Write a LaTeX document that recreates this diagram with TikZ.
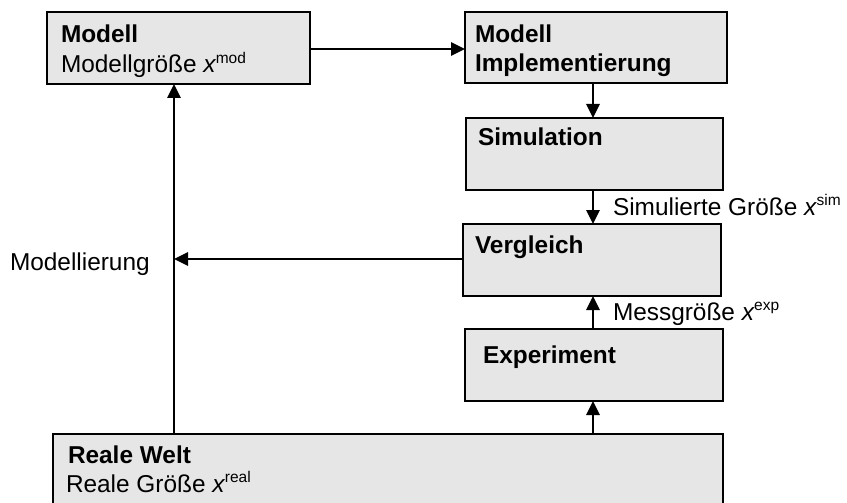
\documentclass[tikz,border=0pt]{standalone}
\usepackage{fontspec}
\setmainfont{Liberation Sans}
\usetikzlibrary{arrows.meta}

\definecolor{boxfill}{HTML}{E6E6E6}

\tikzset{
  box/.style={draw=black, fill=boxfill, line width=2.7pt, anchor=north west,
    inner sep=0pt, outer sep=0pt},
  txt/.style={anchor=base west, inner sep=0pt, outer sep=0pt,
    font=\fontsize{24.4}{29}\selectfont},
  btxt/.style={txt, font=\fontsize{24.4}{29}\selectfont\bfseries},
  arr/.style={line width=2.8pt, -{Triangle[length=14pt,width=13pt]}},
  plain/.style={line width=2.8pt}
}

\newcommand{\sym}[1]{\textit{x}\textsuperscript{\kern-0.5pt\fontsize{15.5}{16}\selectfont #1}}

\begin{document}
\begin{tikzpicture}[x=1pt,y=-1pt]
\useasboundingbox (0,0) rectangle (847,503);

% boxes
\node[box, minimum width=263pt, minimum height=72pt] (modell) at (47,12) {};
\node[box, minimum width=262pt, minimum height=71pt] (impl) at (465,12) {};
\node[box, minimum width=257pt, minimum height=72pt] (sim) at (466,118) {};
\node[box, minimum width=258pt, minimum height=72pt] (verg) at (463,224) {};
\node[box, minimum width=258pt, minimum height=72pt] (expt) at (465,329) {};
\begin{scope}
\clip (0,0) rectangle (847,503);
\node[box, minimum width=670pt, minimum height=90pt] (welt) at (53,434) {};
\end{scope}

% box texts
\node[btxt] (modellT) at (61,43) {Modell};
\node[txt] (modellS) at (61,73) {Modellgröße \sym{mod}};
\node[btxt] (implT1) at (475,43) {Modell};
\node[btxt] (implT2) at (475,72) {Implementierung};
\node[btxt] (simT) at (478,146) {Simulation};
\node[btxt] (vergT) at (475,253) {Vergleich};
\node[btxt] (exptT) at (483,363) {Experiment};
\node[btxt] (weltT) at (68,463) {Reale Welt};
\node[txt] (weltS) at (66,492) {Reale Größe \sym{real}};

% guide columns for the vertical connectors
\coordinate (lcol) at (174,0);
\coordinate (rcol) at (593,0);

% connectors
\draw[arr] (modell.east |- 0,49) coordinate (mE) -- (mE -| impl.west);
\draw[arr] (impl.south -| rcol) -- (sim.north -| rcol);
\draw[arr] (sim.south -| rcol) -- (verg.north -| rcol);
\draw[arr] (expt.north -| rcol) -- (verg.south -| rcol);
\draw[arr] (welt.north -| rcol) -- (expt.south -| rcol);
\draw[arr] (welt.north -| lcol) -- (modell.south -| lcol);
\draw[arr] (verg.west |- 0,259) coordinate (vW) -- (vW -| lcol);

% connector labels
\node[txt] (simL) at (613,215) {Simulierte Größe \sym{sim}};
\node[txt] (expL) at (613,320) {Messgröße \sym{exp}};
\node[txt] (modL) at (10,270) {Modellierung};
\end{tikzpicture}
\end{document}
